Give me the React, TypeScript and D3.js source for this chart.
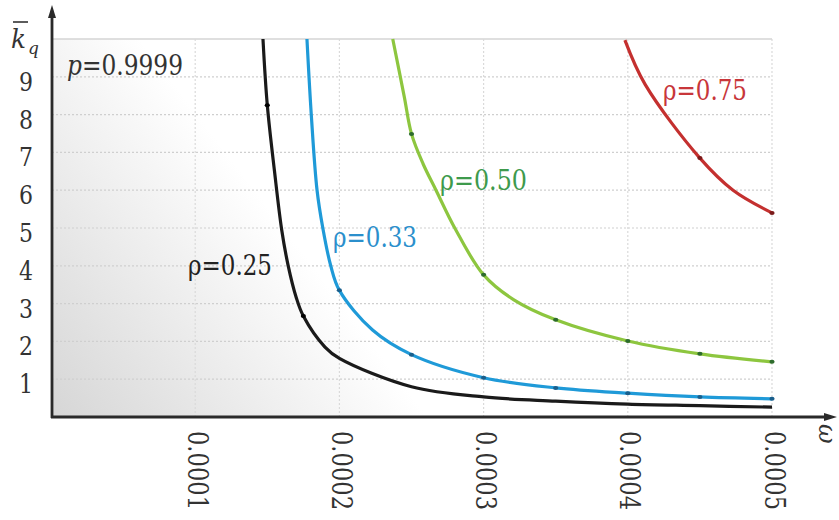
import React from 'react';
import * as d3 from 'd3';

// x values are in units of 1e-4 (0.0001), k values are the ordinate
const rho25X = [1.47, 1.5, 1.55, 1.6, 1.645, 1.7, 1.75, 1.9, 2.0, 2.5, 3.0, 3.5, 4.0, 4.5, 5.0];
const rho25K = [10, 8.25, 6.5, 4.95, 4.0, 3.17, 2.67, 1.85, 1.55, 0.8, 0.53, 0.42, 0.34, 0.3, 0.26];

const rho33X = [1.775, 1.805, 1.845, 1.885, 1.94, 2.0, 2.23, 2.5, 3.0, 3.5, 4.0, 4.5, 5.0];
const rho33K = [10, 8, 6, 5, 4, 3.35, 2.3, 1.65, 1.04, 0.77, 0.63, 0.53, 0.48];

const rho50X = [2.37, 2.45, 2.5, 2.58, 2.67, 2.8, 3.0, 3.21, 3.5, 4.0, 4.5, 5.0];
const rho50K = [10, 8.47, 7.49, 6.7, 6, 5, 3.76, 3.1, 2.57, 2.01, 1.67, 1.46];

const rho75X = [3.98, 4.12, 4.5, 4.73, 5.0];
const rho75K = [9.97, 8.8, 6.85, 6.0, 5.4];

const yTicks = [1, 2, 3, 4, 5, 6, 7, 8, 9];
const xTicks = [1, 2, 3, 4, 5];
const xTickLabels = ['0.0001', '0.0002', '0.0003', '0.0004', '0.0005'];

const series = [
  { name: 'ρ=0.25', xs: rho25X, ks: rho25K, color: '#1a1a1a', dot: '#000', text: '#222', lx: 188, ly: 275, lw: 84, marks: [1.5, 1.75] },
  { name: 'ρ=0.33', xs: rho33X, ks: rho33K, color: '#1f9ad8', dot: '#1a5f8c', text: '#2b8fcc', lx: 333, ly: 247, lw: 84, marks: [2.0, 2.5, 3.0, 3.5, 4.0, 4.5, 5.0] },
  { name: 'ρ=0.50', xs: rho50X, ks: rho50K, color: '#8dc63f', dot: '#2d6b2d', text: '#3e9a4c', lx: 440, ly: 190, lw: 87, marks: [2.5, 3.0, 3.5, 4.0, 4.5, 5.0] },
  { name: 'ρ=0.75', xs: rho75X, ks: rho75K, color: '#c4302f', dot: '#7a1a1a', text: '#c8363a', lx: 663, ly: 100, lw: 84, marks: [4.5, 5.0] },
];

const W = 839;
const H = 520;
const serif = 'DejaVu Serif, Liberation Serif, serif';

export default function App() {
  const x = d3.scaleLinear().domain([0, 5]).range([51, 772]);
  const y = d3.scaleLinear().domain([0, 10]).range([417, 39]);
  const axisX = 52;
  const axisY = 417;

  const line = d3
    .line<[number, number]>()
    .x((d) => x(d[0]))
    .y((d) => y(d[1]))
    .curve(d3.curveCatmullRom.alpha(0.5));

  return (
    <svg
      width={W}
      height={H}
      fontFamily={serif}
      style={{ position: 'absolute', left: 0, top: 0, background: '#fff' }}
    >
      <defs>
        <linearGradient id="shade" x1="0" y1="1" x2="1" y2="0.6">
          <stop offset="0%" stopColor="#d6d6d6" />
          <stop offset="45%" stopColor="#ffffff" />
        </linearGradient>
      </defs>

      {/* plot background */}
      <rect x={axisX} y={y(10)} width={x(5) - axisX} height={axisY - y(10)} fill="url(#shade)" />

      {/* grid */}
      {yTicks.map((t) => (
        <line key={'gy' + t} x1={axisX} x2={x(5)} y1={y(t)} y2={y(t)} stroke="#cfcfcf" strokeWidth={1.2} strokeDasharray="2,2" />
      ))}
      <line x1={axisX} x2={x(5)} y1={y(10)} y2={y(10)} stroke="#d4d4d4" strokeWidth={1.5} />
      {xTicks.map((t) => (
        <line key={'gx' + t} x1={x(t)} x2={x(t)} y1={y(10)} y2={axisY} stroke="#dadada" strokeWidth={1.2} strokeDasharray="2,2" />
      ))}

      {/* curves */}
      {series.map((s) => {
        const pts = s.xs.map((v, i) => [v, s.ks[i]] as [number, number]);
        return (
          <g key={s.name}>
            <path d={line(pts) || ''} fill="none" stroke={s.color} strokeWidth={3.2} strokeLinejoin="round" />
            {pts
              .filter((p) => s.marks.includes(p[0]))
              .map((p, i) => (
                <ellipse key={i} cx={x(p[0])} cy={y(p[1])} rx={2.6} ry={2} fill={s.dot} />
              ))}
            <text x={s.lx} y={s.ly} fontSize={28} fill={s.text} textLength={s.lw} lengthAdjust="spacingAndGlyphs">
              {s.name}
            </text>
          </g>
        );
      })}

      {/* axes */}
      <line x1={axisX} x2={axisX} y1={axisY + 1} y2={14} stroke="#2a2a2a" strokeWidth={2.8} />
      <polygon points={`${axisX},5 ${axisX - 4},18 ${axisX + 4},18`} fill="#2a2a2a" />
      <line x1={axisX - 1} x2={826} y1={axisY} y2={axisY} stroke="#2a2a2a" strokeWidth={2.8} />
      <polygon points={`837,${axisY} 824,${axisY - 4} 824,${axisY + 4}`} fill="#2a2a2a" />

      {/* y tick labels */}
      {yTicks.map((t) => (
        <text key={'ty' + t} x={19} y={y(t) + 14} fontSize={26} textLength={14} lengthAdjust="spacingAndGlyphs" fill="#333">
          {t}
        </text>
      ))}

      {/* x tick labels, rotated */}
      {xTicks.map((t, i) => (
        <text
          key={'tx' + t}
          transform={`translate(${x(t) + 2},431) rotate(90)`}
          fontSize={27}
          dy="0.35em"
          textLength={79}
          lengthAdjust="spacingAndGlyphs"
          fill="#333"
        >
          {xTickLabels[i]}
        </text>
      ))}
      <text transform={`translate(827,424) rotate(90)`} fontSize={24} fontStyle="italic" dy="0.35em" fill="#333">
        ω
      </text>

      {/* y axis title: k-bar with subscript q */}
      <text x={11} y={48} fontSize={26} fontStyle="italic" fill="#333" textLength={15} lengthAdjust="spacingAndGlyphs">
        k
      </text>
      <line x1={13} x2={28} y1={22} y2={22} stroke="#333" strokeWidth={1.6} />
      <text x={28} y={54} fontSize={17} fontStyle="italic" fill="#333">
        q
      </text>

      {/* probability annotation */}
      <text x={67} y={75} fontSize={28} fill="#333" textLength={116} lengthAdjust="spacingAndGlyphs">
        <tspan fontStyle="italic">p</tspan>=0.9999
      </text>
    </svg>
  );
}
